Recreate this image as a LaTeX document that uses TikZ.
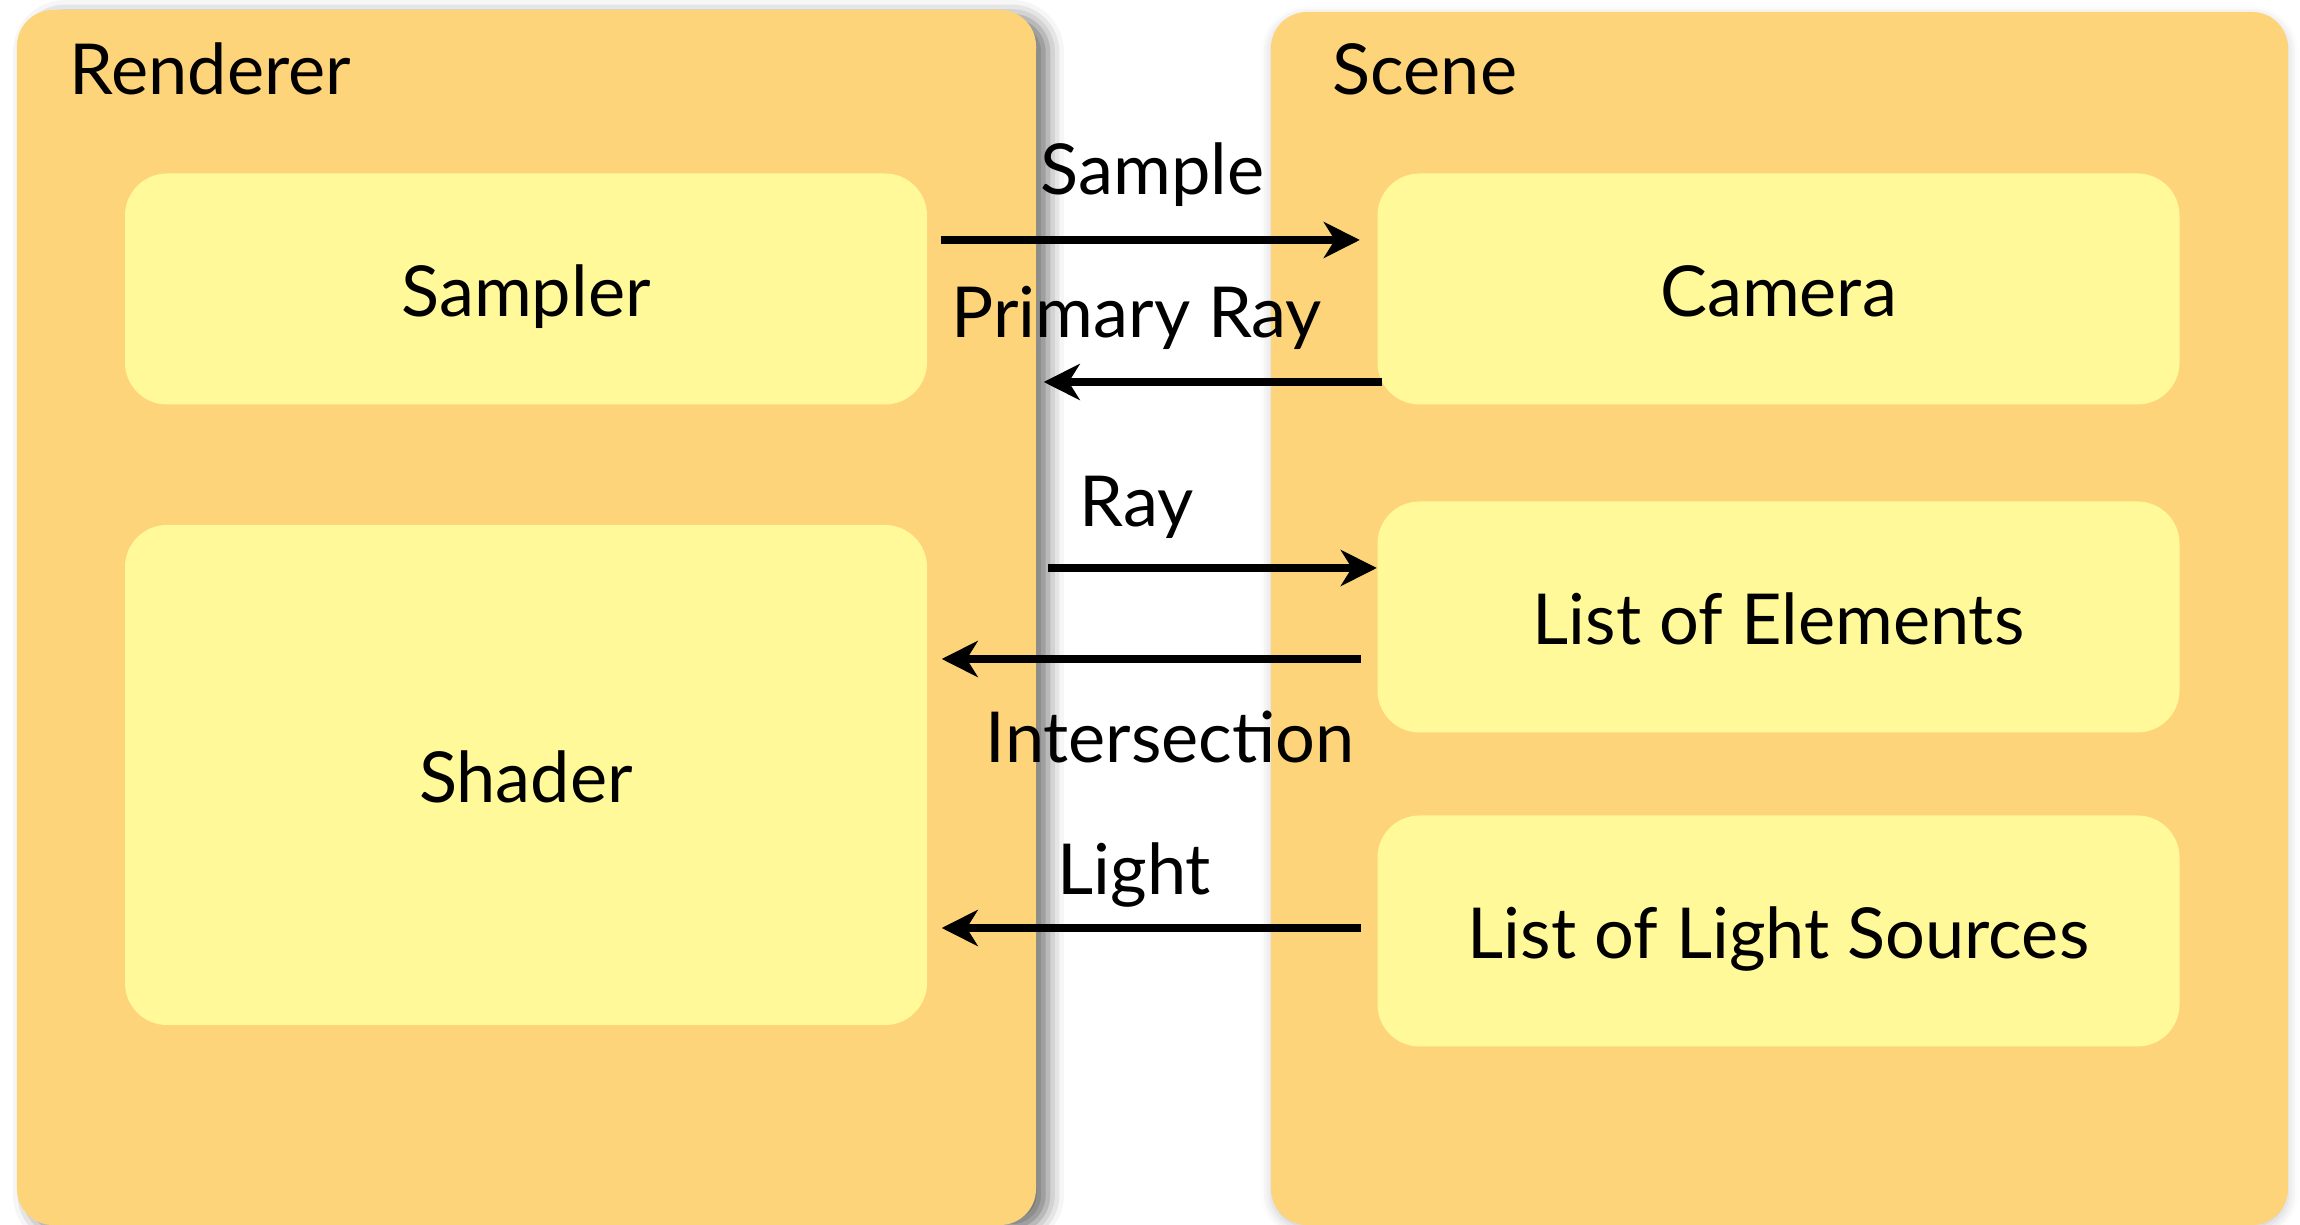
\documentclass[tikz,border=0pt]{standalone}
\usepackage{xcolor}
\usepackage{fontspec}
\setmainfont{Lato}
\usepackage{tikz}
\usetikzlibrary{positioning,arrows.meta,shadows.blur}

\definecolor{outerfill}{RGB}{254,212,122}
\definecolor{innerfill}{RGB}{255,249,153}

\begin{document}
\begin{tikzpicture}[
    font=\fontsize{20}{24}\selectfont,
    group/.style={rectangle, fill=outerfill, rounded corners=3.6mm, inner sep=0pt},
    box/.style={rectangle, fill=innerfill, rounded corners=4.2mm, text centered, text height=7mm, text depth=1.4mm, minimum width=8.02cm, minimum height=2.31cm},
    title/.style={anchor=base west, inner sep=0pt},
    arrow/.style={line width=2.3pt, -{Stealth[length=3.6mm, width=3.6mm, inset=1.1mm]}},
    lbl/.style={midway, anchor=base}]

    \useasboundingbox (0,0) rectangle (23,-12.25);

    \node (renderer) [group, minimum width=10.19cm, minimum height=12.15cm,
        blur shadow={shadow xshift=1.2mm, shadow yshift=-0.6mm, shadow blur radius=1.6mm, shadow opacity=55}]
        at (5.265,-6.175) {};
    \node (scene) [group, minimum width=10.17cm, minimum height=12.13cm,
        blur shadow={shadow xshift=0mm, shadow yshift=-0.4mm, shadow blur radius=1mm, shadow opacity=20}]
        at (17.795,-6.185) {};

    \node (renderertitle) [title] at (0.69,-0.95) {Renderer};
    \node (scenetitle) [title] at (13.32,-0.95) {Scene};

    \node (sampler) [box] at (5.26,-2.89) {Sampler};
    \node (shader) [box, minimum height=5cm] at (5.26,-7.75) {Shader};

    \node (camera) [box] at (17.785,-2.89) {Camera};
    \node (elements) [box] at (17.785,-6.17) {List of Elements};
    \node (lights) [box] at (17.785,-9.31) {List of Light Sources};

    % arrow rows
    \coordinate (primary) at ([yshift=-9.3mm]camera.west);
    \coordinate (ray) at ([yshift=4.9mm]elements.west);
    \coordinate (hit) at ([yshift=-4.2mm]elements.west);

    \draw [arrow, shorten <=1.3mm, shorten >=1.7mm] ([yshift=4.9mm]sampler.east) -- node[lbl, yshift=4.5mm] {Sample} ([yshift=4.9mm]camera.west);
    \draw [arrow, shorten <=-0.5mm, shorten >=0.7mm] (primary) -- node[lbl, xshift=-7mm, yshift=4.4mm] {Primary Ray} (primary -| renderer.east);

    \draw [arrow, shorten <=1.1mm] (ray -| renderer.east) -- node[lbl, xshift=-7mm, yshift=4.1mm] {Ray} (ray);
    \draw [arrow, shorten <=1.6mm, shorten >=1.4mm] (hit) -- node[lbl, xshift=1.8mm, yshift=-10.4mm] {Intersection} (hit -| shader.east);

    \draw [arrow, shorten <=1.6mm, shorten >=1.4mm] ([yshift=0.3mm]lights.west) -- node[lbl, xshift=-1.8mm, yshift=3.3mm] {Light} ([yshift=0.3mm]lights.west -| shader.east);
\end{tikzpicture}
\end{document}
